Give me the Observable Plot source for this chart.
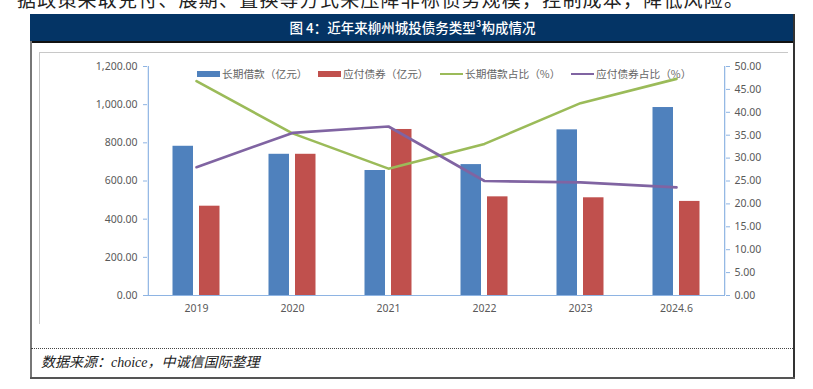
<!DOCTYPE html>
<html>
<head>
<meta charset="utf-8">
<script src="https://cdn.jsdelivr.net/npm/d3@7"></script>
<script src="https://cdn.jsdelivr.net/npm/@observablehq/plot@0.6"></script>
<style>
  html, body { margin: 0; padding: 0; background: #fff; }
  #page { position: relative; width: 813px; height: 389px; overflow: hidden; background: #fff; }
  .abs { position: absolute; }
  .cjk { font-family: "Noto Sans CJK SC", sans-serif; }
  .leg { position: absolute; font-family: "Noto Sans CJK SC", sans-serif; font-size: 10.7px; color: #666; line-height: 14px; white-space: nowrap; }
</style>
</head>
<body>
<div id="page">
  <div class="abs cjk" id="bodytext" style="left:17px; top:-11px; font-size:19px; line-height:19px; letter-spacing:1.2px; color:#222; white-space:nowrap;"></div>
  <!-- title bar -->
  <div class="abs" style="left:30px; top:14px; width:765px; height:27px; background:#043465; border-bottom:2px solid #111;"></div>
  <div class="abs cjk" id="title" style="left:30px; top:14px; width:765px; height:27px; line-height:27px; text-align:center; color:#fff; font-size:13.5px; font-weight:500;"></div>
  <!-- outer frame -->
  <div class="abs" style="left:30px; top:41px; width:1.5px; height:337px; background:#777;"></div>
  <div class="abs" style="left:793px; top:14px; width:2px; height:365px; background:#333;"></div>
  <div class="abs" style="left:30px; top:377px; width:765px; height:2px; background:#555;"></div>
  <!-- inner chart box (top and left edges) -->
  <div class="abs" style="left:39px; top:52px; width:749px; height:1px; background:#C8C8C8;"></div>
  <div class="abs" style="left:39px; top:52px; width:1px; height:272px; background:#C8C8C8;"></div>
  <!-- dotted separator -->
  <div class="abs" style="left:31px; top:348px; width:762px; height:0; border-top:1px dotted #444;"></div>
  <div class="abs" id="caption" style="left:41px; top:353px; font-size:14px; line-height:20px; font-style:italic; color:#222; white-space:nowrap; font-family:'Liberation Serif','Noto Sans CJK SC',serif;"></div>
  <div id="legend"></div>
  <div class="abs" id="chart" style="left:0; top:0;"></div>
</div>
<script>
// ---- data ----
const years = ["2019", "2020", "2021", "2022", "2023", "2024.6"];
const longLoans = [782, 740, 655, 686, 868, 985];        // 长期借款（亿元）
const bonds = [468, 740, 870, 517, 512, 493];            // 应付债券（亿元）
const longLoanPct = [46.8, 35.4, 27.7, 33.1, 42.0, 47.3]; // 长期借款占比（%）
const bondPct = [28.0, 35.5, 36.9, 25.0, 24.7, 23.6];     // 应付债券占比（%）
const leftTicks = [0, 200, 400, 600, 800, 1000, 1200];
const rightTicks = [0, 5, 10, 15, 20, 25, 30, 35, 40, 45, 50];
const seriesNames = ["长期借款（亿元）", "应付债券（亿元）", "长期借款占比（%）", "应付债券占比（%）"];
const titleText = "图 4：近年来柳州城投债务类型³构成情况";
const captionText = "数据来源：choice，中诚信国际整理";
const bodyText = "据政策采取兑付、展期、置换等方式来压降非标债务规模，控制成本，降低风险。";

// ---- styles ----
const colors = ["#4F81BD", "#C0504D", "#9BBB59", "#8064A2"];
const axisColor = "#8EB4E3";
const textColor = "#595959";

document.getElementById("title").textContent = titleText;
document.getElementById("caption").textContent = captionText;
document.getElementById("bodytext").textContent = bodyText;

// legend
const legendX = [197, 318, 440, 571];
const legend = document.getElementById("legend");
seriesNames.forEach((name, i) => {
  const isLine = i >= 2;
  const sw = document.createElement("div");
  sw.className = "abs";
  sw.style.left = legendX[i] + "px";
  sw.style.width = "23px";
  sw.style.background = colors[i];
  sw.style.top = isLine ? "72.8px" : "70.5px";
  sw.style.height = isLine ? "2.6px" : "6.5px";
  legend.appendChild(sw);
  const t = document.createElement("div");
  t.className = "leg";
  t.style.left = (legendX[i] + 25) + "px";
  t.style.top = "66.5px";
  t.textContent = name;
  legend.appendChild(t);
});

const rows = years.map((y, i) => ({
  year: y, loan: longLoans[i], bond: bonds[i], loanPct: longLoanPct[i], bondPct: bondPct[i]
}));

const W = 813, H = 389, ML = 147, MR = 88, MT = 66, MB = 94;
const bw = (W - ML - MR) / years.length;
const K = 1200 / 50; // right axis (%) mapped onto left axis domain

const chart = Plot.plot({
  width: W, height: H,
  marginLeft: ML, marginRight: MR, marginTop: MT, marginBottom: MB,
  x: { type: "band", domain: years, padding: 0, axis: null },
  y: { domain: [0, 1200], axis: null },
  style: { background: "transparent", fontFamily: "'Noto Sans', sans-serif", fontSize: "10.5px", overflow: "visible" },
  marks: [
    Plot.barY(rows, { x: "year", y: "loan", fill: colors[0], insetLeft: 24.5, insetRight: 51 }),
    Plot.barY(rows, { x: "year", y: "bond", fill: colors[1], insetLeft: 51, insetRight: 24.5 }),
    Plot.ruleY([0], { stroke: axisColor, strokeWidth: 1.2 }),
    Plot.ruleX([years[0]], { dx: -bw / 2, stroke: axisColor, strokeWidth: 1.2 }),
    Plot.ruleX([years[years.length - 1]], { dx: bw / 2, stroke: axisColor, strokeWidth: 1.2 }),
    Plot.axisY({ ticks: leftTicks, tickFormat: d3.format(",.2f"), tickSize: 4, tickPadding: 6,
      stroke: axisColor, fill: textColor, label: null }),
    Plot.axisY({ anchor: "right", ticks: rightTicks.map(d => d * K), tickFormat: d => (d / K).toFixed(2),
      tickSize: 4, tickPadding: 5, stroke: axisColor, fill: textColor, label: null }),
    Plot.axisX({ tickSize: 0, tickPadding: 9, fill: textColor, label: null }),
    Plot.line(rows, { x: "year", y: d => d.loanPct * K, stroke: colors[2], strokeWidth: 2.6 }),
    Plot.line(rows, { x: "year", y: d => d.bondPct * K, stroke: colors[3], strokeWidth: 2.6 })
  ]
});
document.getElementById("chart").appendChild(chart);
</script>
</body>
</html>
